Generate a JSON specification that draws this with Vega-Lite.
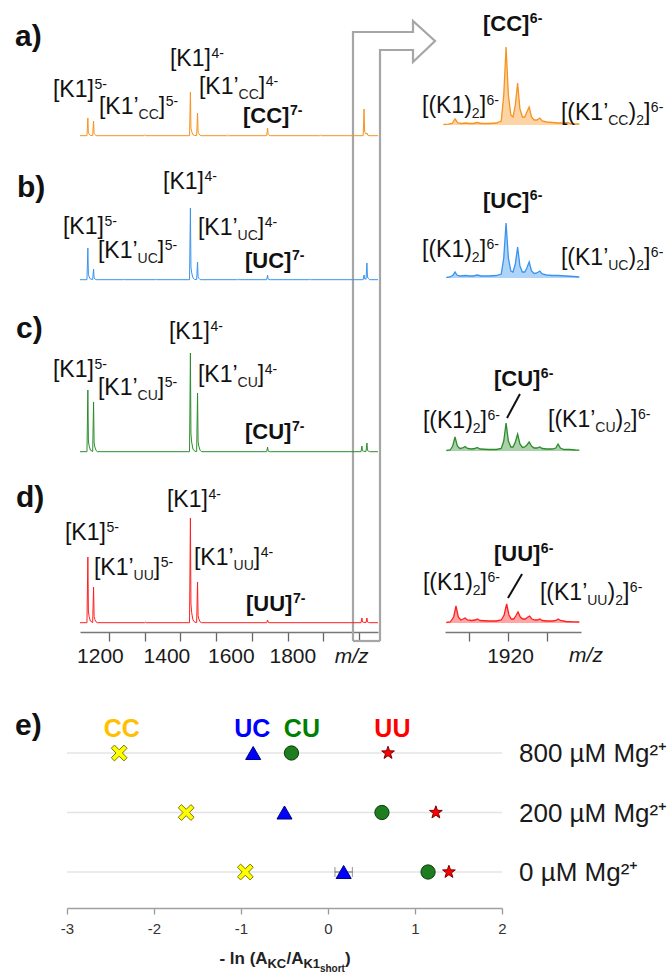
{
"$schema": "https://vega.github.io/schema/vega-lite/v6.json",
"background": "white",
"padding": 0,
"spacing": 44,
"config": {"view": {"stroke": null}, "font": "Liberation Sans"},
"datasets": {
"aL": [{"mz":1119,"i":0.3},{"mz":1138.5,"i":0.3},{"mz":1141,"i":18},{"mz":1142.5,"i":3.2},{"mz":1144.5,"i":1.8},{"mz":1148,"i":0.6},{"mz":1154.5,"i":0.4},{"mz":1157,"i":15},{"mz":1158.5,"i":2.7},{"mz":1160.5,"i":1.5},{"mz":1164,"i":0.5},{"mz":1167,"i":0.3},{"mz":1298,"i":0.3},{"mz":1300,"i":1.2},{"mz":1302,"i":0.3},{"mz":1425.5,"i":0.3},{"mz":1428,"i":44},{"mz":1429.5,"i":8},{"mz":1431.5,"i":4.4},{"mz":1435,"i":1.3},{"mz":1440,"i":0.5},{"mz":1445.5,"i":0.4},{"mz":1448,"i":23},{"mz":1449.5,"i":4},{"mz":1451.5,"i":2.3},{"mz":1455,"i":0.7},{"mz":1458,"i":0.3},{"mz":1530,"i":0.3},{"mz":1532,"i":1},{"mz":1534,"i":0.3},{"mz":1641.5,"i":0.3},{"mz":1644,"i":8},{"mz":1645.5,"i":1.5},{"mz":1648,"i":0.6},{"mz":1652,"i":0.3},{"mz":1790,"i":0.3},{"mz":1792,"i":0.8},{"mz":1794,"i":0.3},{"mz":1911.5,"i":0.3},{"mz":1914,"i":27},{"mz":1915.5,"i":5},{"mz":1917.5,"i":2.7},{"mz":1920,"i":2},{"mz":1922,"i":3},{"mz":1924,"i":1},{"mz":1928,"i":0.3},{"mz":1953,"i":0.3}],
"bL": [{"mz":1119,"i":0.3},{"mz":1138.5,"i":0.3},{"mz":1141,"i":32},{"mz":1142.5,"i":5.8},{"mz":1144.5,"i":3.2},{"mz":1148,"i":1},{"mz":1154.5,"i":0.4},{"mz":1157,"i":11},{"mz":1158.5,"i":2},{"mz":1160.5,"i":1.1},{"mz":1164,"i":0.4},{"mz":1167,"i":0.3},{"mz":1240,"i":0.3},{"mz":1242,"i":1},{"mz":1244,"i":0.3},{"mz":1330,"i":0.3},{"mz":1332,"i":0.9},{"mz":1334,"i":0.3},{"mz":1425.5,"i":0.3},{"mz":1428,"i":72},{"mz":1429.5,"i":13},{"mz":1431.5,"i":7.2},{"mz":1435,"i":2.2},{"mz":1440,"i":0.6},{"mz":1445.5,"i":0.4},{"mz":1448,"i":18},{"mz":1449.5,"i":3.2},{"mz":1451.5,"i":1.8},{"mz":1455,"i":0.5},{"mz":1458,"i":0.3},{"mz":1560,"i":0.3},{"mz":1562,"i":0.9},{"mz":1564,"i":0.3},{"mz":1641.5,"i":0.3},{"mz":1644,"i":5},{"mz":1645.5,"i":1},{"mz":1648,"i":0.4},{"mz":1652,"i":0.3},{"mz":1760,"i":0.3},{"mz":1762,"i":0.8},{"mz":1764,"i":0.3},{"mz":1911.5,"i":0.3},{"mz":1914,"i":5},{"mz":1915.5,"i":1.2},{"mz":1919.5,"i":0.8},{"mz":1922,"i":17},{"mz":1923.5,"i":3},{"mz":1925.5,"i":1.7},{"mz":1929,"i":0.5},{"mz":1933,"i":0.3},{"mz":1953,"i":0.3}],
"cL": [{"mz":1119,"i":0.3},{"mz":1138.5,"i":0.3},{"mz":1141,"i":62},{"mz":1142.5,"i":11},{"mz":1144.5,"i":6.2},{"mz":1148,"i":1.9},{"mz":1154.5,"i":0.5},{"mz":1157,"i":50},{"mz":1158.5,"i":9},{"mz":1160.5,"i":5},{"mz":1164,"i":1.5},{"mz":1168,"i":0.3},{"mz":1425.5,"i":0.3},{"mz":1428,"i":99},{"mz":1429.5,"i":18},{"mz":1431.5,"i":9.9},{"mz":1435,"i":3},{"mz":1440,"i":0.8},{"mz":1445.5,"i":0.5},{"mz":1448,"i":59},{"mz":1449.5,"i":10.6},{"mz":1451.5,"i":5.9},{"mz":1455,"i":1.8},{"mz":1459,"i":0.3},{"mz":1641.5,"i":0.3},{"mz":1644,"i":5},{"mz":1645.5,"i":1},{"mz":1648,"i":0.4},{"mz":1652,"i":0.3},{"mz":1905.5,"i":0.3},{"mz":1908,"i":6},{"mz":1909.5,"i":1.2},{"mz":1912,"i":0.8},{"mz":1919.5,"i":0.6},{"mz":1922,"i":9},{"mz":1923.5,"i":1.8},{"mz":1925.5,"i":1},{"mz":1929,"i":0.4},{"mz":1933,"i":0.3},{"mz":1953,"i":0.3}],
"dL": [{"mz":1119,"i":0.3},{"mz":1138.5,"i":0.3},{"mz":1141,"i":66},{"mz":1142.5,"i":12},{"mz":1144.5,"i":6.6},{"mz":1148,"i":2},{"mz":1154.5,"i":0.5},{"mz":1157,"i":36},{"mz":1158.5,"i":6.5},{"mz":1160.5,"i":3.6},{"mz":1164,"i":1.1},{"mz":1168,"i":0.3},{"mz":1300,"i":0.3},{"mz":1302,"i":0.8},{"mz":1304,"i":0.3},{"mz":1425.5,"i":0.3},{"mz":1428,"i":105},{"mz":1429.5,"i":19},{"mz":1431.5,"i":10.5},{"mz":1435,"i":3.2},{"mz":1440,"i":0.8},{"mz":1445.5,"i":0.5},{"mz":1448,"i":41},{"mz":1449.5,"i":7.4},{"mz":1451.5,"i":4.1},{"mz":1455,"i":1.2},{"mz":1459,"i":0.3},{"mz":1641.5,"i":0.3},{"mz":1644,"i":3},{"mz":1645.5,"i":0.8},{"mz":1648,"i":0.3},{"mz":1905.5,"i":0.3},{"mz":1908,"i":5},{"mz":1909.5,"i":1},{"mz":1912,"i":0.7},{"mz":1919.5,"i":0.5},{"mz":1922,"i":5},{"mz":1923.5,"i":1},{"mz":1925.5,"i":0.7},{"mz":1929,"i":0.3},{"mz":1953,"i":0.3}],
"aR": [{"mz":1886.5,"i":0.5},{"mz":1889,"i":0.8},{"mz":1891,"i":1.5},{"mz":1892.5,"i":6},{"mz":1894,"i":2},{"mz":1896,"i":1.5},{"mz":1898,"i":2},{"mz":1900,"i":1.5},{"mz":1902,"i":1.5},{"mz":1904,"i":2.5},{"mz":1906,"i":1.5},{"mz":1910,"i":1.5},{"mz":1914,"i":2},{"mz":1916.5,"i":4},{"mz":1917.8,"i":30},{"mz":1919,"i":78},{"mz":1920.2,"i":30},{"mz":1921.5,"i":10},{"mz":1922.6,"i":8},{"mz":1923.8,"i":20},{"mz":1925,"i":42},{"mz":1926.2,"i":16},{"mz":1927.5,"i":8},{"mz":1928.7,"i":8},{"mz":1929.8,"i":13},{"mz":1931,"i":18},{"mz":1932.2,"i":8},{"mz":1933.6,"i":5},{"mz":1935,"i":5},{"mz":1936.5,"i":7},{"mz":1937.8,"i":4},{"mz":1940,"i":3},{"mz":1943,"i":2.5},{"mz":1946,"i":2},{"mz":1949,"i":2},{"mz":1951,"i":2.5},{"mz":1952.5,"i":1.5},{"mz":1955,"i":1},{"mz":1957,"i":1}],
"bR": [{"mz":1888,"i":0.5},{"mz":1890,"i":1},{"mz":1891.5,"i":3},{"mz":1892.5,"i":6},{"mz":1893.5,"i":3},{"mz":1895,"i":2},{"mz":1898,"i":2.5},{"mz":1900,"i":2},{"mz":1902,"i":2},{"mz":1904,"i":3},{"mz":1906,"i":2},{"mz":1910,"i":2},{"mz":1914,"i":2.5},{"mz":1916.5,"i":4},{"mz":1917.8,"i":20},{"mz":1919,"i":55},{"mz":1920.2,"i":20},{"mz":1921.5,"i":7},{"mz":1922.6,"i":6},{"mz":1923.8,"i":14},{"mz":1925,"i":31},{"mz":1926.2,"i":12},{"mz":1927.5,"i":6},{"mz":1928.7,"i":6},{"mz":1929.8,"i":10},{"mz":1931,"i":16},{"mz":1932.2,"i":7},{"mz":1933.6,"i":4.5},{"mz":1935,"i":5},{"mz":1936.5,"i":7},{"mz":1937.8,"i":4},{"mz":1940,"i":3},{"mz":1943,"i":2.5},{"mz":1946,"i":2.5},{"mz":1950,"i":2},{"mz":1954,"i":1.5},{"mz":1957,"i":1}],
"cR": [{"mz":1888,"i":0.5},{"mz":1890,"i":1},{"mz":1891.3,"i":5},{"mz":1892.5,"i":14},{"mz":1893.7,"i":5},{"mz":1895,"i":2.5},{"mz":1896.5,"i":3},{"mz":1897.7,"i":4.5},{"mz":1899,"i":2.5},{"mz":1901,"i":2},{"mz":1902.8,"i":2.5},{"mz":1904,"i":3.5},{"mz":1905.5,"i":2},{"mz":1910,"i":1.5},{"mz":1914,"i":1.5},{"mz":1916.5,"i":2.5},{"mz":1917.8,"i":10},{"mz":1919,"i":28},{"mz":1920.2,"i":10},{"mz":1921.5,"i":4},{"mz":1922.6,"i":4},{"mz":1923.8,"i":9},{"mz":1925,"i":17},{"mz":1926.2,"i":7},{"mz":1927.5,"i":3.5},{"mz":1928.7,"i":4},{"mz":1929.8,"i":6},{"mz":1931,"i":9},{"mz":1932.2,"i":5},{"mz":1933.6,"i":3},{"mz":1935,"i":3},{"mz":1936.5,"i":4},{"mz":1937.8,"i":2.5},{"mz":1940,"i":2},{"mz":1943,"i":2},{"mz":1944.8,"i":3},{"mz":1946,"i":7},{"mz":1947.2,"i":3},{"mz":1949,"i":1.5},{"mz":1952,"i":1.5},{"mz":1955,"i":1},{"mz":1957,"i":0.8}],
"dR": [{"mz":1888,"i":0.5},{"mz":1890,"i":1},{"mz":1891.8,"i":6},{"mz":1893,"i":17},{"mz":1894.2,"i":6},{"mz":1895.5,"i":3},{"mz":1896.7,"i":4},{"mz":1897.7,"i":5},{"mz":1899,"i":3},{"mz":1901,"i":2.5},{"mz":1903,"i":3},{"mz":1904,"i":4},{"mz":1905.5,"i":2.5},{"mz":1910,"i":2},{"mz":1914,"i":2},{"mz":1916.5,"i":3},{"mz":1918,"i":8},{"mz":1919.3,"i":19},{"mz":1920.5,"i":8},{"mz":1921.7,"i":4},{"mz":1923,"i":4},{"mz":1924,"i":7},{"mz":1925.2,"i":11},{"mz":1926.4,"i":6},{"mz":1927.6,"i":4},{"mz":1929,"i":4},{"mz":1930,"i":5.5},{"mz":1931.2,"i":7},{"mz":1932.4,"i":4},{"mz":1934,"i":3},{"mz":1935.3,"i":3},{"mz":1936.5,"i":4},{"mz":1937.8,"i":2.5},{"mz":1940,"i":2},{"mz":1943,"i":2},{"mz":1945,"i":2.5},{"mz":1946,"i":4},{"mz":1947.2,"i":2.5},{"mz":1950,"i":1.5},{"mz":1954,"i":1.2},{"mz":1957,"i":1}],
"lab": [
{"p":"a","s":"L","mz":1157.9,"i":39,"s0":"]","s1":"","s2":"","s3":"","s4":"","s5":"","s6":"[K1","sup":"5-"},
{"p":"a","s":"L","mz":1357.4,"i":22,"s0":"]","s1":"CC","s2":"","s3":"","s4":"","s5":"[K1’","s6":"","sup":"5-"},
{"p":"a","s":"L","mz":1485.3,"i":70,"s0":"]","s1":"","s2":"","s3":"","s4":"","s5":"","s6":"[K1","sup":"4-"},
{"p":"a","s":"L","mz":1637.3,"i":42,"s0":"]","s1":"CC","s2":"","s3":"","s4":"","s5":"[K1’","s6":"","sup":"4-"},
{"p":"b","s":"L","mz":1185.9,"i":46,"s0":"]","s1":"","s2":"","s3":"","s4":"","s5":"","s6":"[K1","sup":"5-"},
{"p":"b","s":"L","mz":1465.8,"i":91,"s0":"]","s1":"","s2":"","s3":"","s4":"","s5":"","s6":"[K1","sup":"4-"},
{"p":"b","s":"L","mz":1354.6,"i":22,"s0":"]","s1":"UC","s2":"","s3":"","s4":"","s5":"[K1’","s6":"","sup":"5-"},
{"p":"b","s":"L","mz":1634.5,"i":45,"s0":"]","s1":"UC","s2":"","s3":"","s4":"","s5":"[K1’","s6":"","sup":"4-"},
{"p":"c","s":"L","mz":1157.9,"i":75,"s0":"]","s1":"","s2":"","s3":"","s4":"","s5":"","s6":"[K1","sup":"5-"},
{"p":"c","s":"L","mz":1482.5,"i":113,"s0":"]","s1":"","s2":"","s3":"","s4":"","s5":"","s6":"[K1","sup":"4-"},
{"p":"c","s":"L","mz":1354.6,"i":57,"s0":"]","s1":"CU","s2":"","s3":"","s4":"","s5":"[K1’","s6":"","sup":"5-"},
{"p":"c","s":"L","mz":1634.5,"i":70,"s0":"]","s1":"CU","s2":"","s3":"","s4":"","s5":"[K1’","s6":"","sup":"4-"},
{"p":"d","s":"L","mz":1191.5,"i":83,"s0":"]","s1":"","s2":"","s3":"","s4":"","s5":"","s6":"[K1","sup":"5-"},
{"p":"d","s":"L","mz":1476.9,"i":116,"s0":"]","s1":"","s2":"","s3":"","s4":"","s5":"","s6":"[K1","sup":"4-"},
{"p":"d","s":"L","mz":1343.5,"i":48,"s0":"]","s1":"UU","s2":"","s3":"","s4":"","s5":"[K1’","s6":"","sup":"5-"},
{"p":"d","s":"L","mz":1623.3,"i":58,"s0":"]","s1":"UU","s2":"","s3":"","s4":"","s5":"[K1’","s6":"","sup":"4-"},
{"p":"a","s":"R","mz":1908.6,"i":12,"s0":"]","s1":"2","s2":"[(K1)","s3":"","s4":"","s5":"","s6":"","sup":"6-"},
{"p":"a","s":"R","mz":1993.9,"i":5,"s0":"]","s1":"2","s2":")","s3":"CC","s4":"[(K1’","s5":"","s6":"","sup":"6-"},
{"p":"b","s":"R","mz":1908.6,"i":21,"s0":"]","s1":"2","s2":"[(K1)","s3":"","s4":"","s5":"","s6":"","sup":"6-"},
{"p":"b","s":"R","mz":1993.9,"i":13,"s0":"]","s1":"2","s2":")","s3":"UC","s4":"[(K1’","s5":"","s6":"","sup":"6-"},
{"p":"c","s":"R","mz":1909.1,"i":23,"s0":"]","s1":"2","s2":"[(K1)","s3":"","s4":"","s5":"","s6":"","sup":"6-"},
{"p":"c","s":"R","mz":1987.2,"i":24,"s0":"]","s1":"2","s2":")","s3":"CU","s4":"[(K1’","s5":"","s6":"","sup":"6-"},
{"p":"d","s":"R","mz":1909.1,"i":33,"s0":"]","s1":"2","s2":"[(K1)","s3":"","s4":"","s5":"","s6":"","sup":"6-"},
{"p":"d","s":"R","mz":1983.0,"i":23,"s0":"]","s1":"2","s2":")","s3":"UU","s4":"[(K1’","s5":"","s6":"","sup":"6-"}],
"labb": [
{"p":"a","s":"L","mz":1705.1,"i":13,"t":"[CC]","sup":"7-"},
{"p":"b","s":"L","mz":1710.7,"i":12,"t":"[UC]","sup":"7-"},
{"p":"c","s":"L","mz":1710.7,"i":13,"t":"[CU]","sup":"7-"},
{"p":"d","s":"L","mz":1713.5,"i":12,"t":"[UU]","sup":"7-"},
{"p":"a","s":"R","mz":1931.1,"i":94,"t":"[CC]","sup":"6-"},
{"p":"b","s":"R","mz":1931.1,"i":70,"t":"[UC]","sup":"6-"},
{"p":"c","s":"R","mz":1936.8,"i":65,"t":"[CU]","sup":"6-"},
{"p":"d","s":"R","mz":1936.8,"i":62,"t":"[UU]","sup":"6-"}],
"pl": [{"p":"a","mz":937.1,"i":90,"t":"a)"},{"p":"b","mz":942.7,"i":83,"t":"b)"},{"p":"c","mz":939.9,"i":114,"t":"c)"},{"p":"d","mz":939.9,"i":116,"t":"d)"}],
"sl": [{"p":"c","mz":1926.2,"i":57,"mz2":1919.5,"i2":33},{"p":"d","mz":1927.3,"i":49,"mz2":1920.0,"i2":25}],
"zoom": [{"mz":1883.0},{"mz":1958.6}],
"arrow": [{"o":0,"mz":1883.0,"i":-14},{"o":1,"mz":1883.0,"i":104},{"o":2,"mz":2051.0,"i":104},{"o":3,"mz":2051.0,"i":115},{"o":4,"mz":2112.5,"i":95},{"o":5,"mz":2051.0,"i":74},{"o":6,"mz":2051.0,"i":86},{"o":7,"mz":1958.6,"i":86},{"o":8,"mz":1958.6,"i":-14}],
"e": [
{"cond":"800 µM Mg²⁺","type":"CC","v":-2.40},
{"cond":"800 µM Mg²⁺","type":"UC","v":-0.86},
{"cond":"800 µM Mg²⁺","type":"CU","v":-0.42},
{"cond":"800 µM Mg²⁺","type":"UU","v":0.69},
{"cond":"200 µM Mg²⁺","type":"CC","v":-1.63},
{"cond":"200 µM Mg²⁺","type":"UC","v":-0.50},
{"cond":"200 µM Mg²⁺","type":"CU","v":0.62},
{"cond":"200 µM Mg²⁺","type":"UU","v":1.24},
{"cond":"0 µM Mg²⁺","type":"CC","v":-0.95},
{"cond":"0 µM Mg²⁺","type":"UC","v":0.18},
{"cond":"0 µM Mg²⁺","type":"CU","v":1.15},
{"cond":"0 µM Mg²⁺","type":"UU","v":1.39}],
"eerr": [{"cond":"0 µM Mg²⁺","type":"UC","lo":0.08,"hi":0.28}],
"ehead": [{"type":"CC","x":-2.37},{"type":"UC","x":-0.87},{"type":"CU","x":-0.30},{"type":"UU","x":0.74}]
},
"vconcat": [
{
"columns": 2, "spacing": 0, "bounds": "flush", "align": "each",
"concat": [
{"width": 378, "height": 150, "layer": [
 {"data": {"name": "arrow"}, "mark": {"type": "line", "color": "#a6a6a6", "strokeWidth": 2.2, "strokeJoin": "miter", "clip": false},
  "encoding": {"x": {"field":"mz","type":"quantitative","scale":{"domain":[1119,1953],"range":[80,378],"nice":false,"zero":false},"axis":null},
   "y": {"field":"i","type":"quantitative","scale":{"domain":[-14,136],"nice":false,"zero":false},"axis":null},
   "order": {"field":"o","type":"quantitative"}}},
 {"data": {"name": "aL"}, "mark": {"type": "line", "color": "#f7931e", "strokeWidth": 1},
  "encoding": {"x": {"field":"mz","type":"quantitative","scale":{"domain":[1119,1953],"range":[80,378],"nice":false,"zero":false},"axis":null},
   "y": {"field":"i","type":"quantitative","scale":{"domain":[-14,136],"nice":false,"zero":false},"axis":null}}},
 {"data": {"name": "lab"}, "transform": [{"filter": "datum.p=='a' && datum.s=='L'"}],
  "encoding": {"x": {"field":"mz","type":"quantitative","scale":{"domain":[1119,1953],"range":[80,378],"nice":false,"zero":false},"axis":null},
   "y": {"field":"i","type":"quantitative","scale":{"domain":[-14,136],"nice":false,"zero":false},"axis":null}},
  "layer": [
   {"mark": {"type":"text","align":"right","baseline":"alphabetic","fontSize":23,"color":"#111"}, "encoding": {"text": {"field":"s0"}}},
   {"mark": {"type":"text","align":"right","baseline":"alphabetic","fontSize":14,"dx":-6.4,"dy":5,"color":"#222"}, "encoding": {"text": {"field":"s1"}}},
   {"mark": {"type":"text","align":"right","baseline":"alphabetic","fontSize":23,"dx":-26.6,"color":"#111"}, "encoding": {"text": {"field":"s5"}}},
   {"mark": {"type":"text","align":"right","baseline":"alphabetic","fontSize":23,"dx":-6.4,"color":"#111"}, "encoding": {"text": {"field":"s6"}}},
   {"mark": {"type":"text","align":"left","baseline":"alphabetic","fontSize":14,"dx":0.5,"dy":-8,"color":"#111"}, "encoding": {"text": {"field":"sup"}}}
  ]},
 {"data": {"name": "labb"}, "transform": [{"filter": "datum.p=='a' && datum.s=='L'"}],
  "encoding": {"x": {"field":"mz","type":"quantitative","scale":{"domain":[1119,1953],"range":[80,378],"nice":false,"zero":false},"axis":null},
   "y": {"field":"i","type":"quantitative","scale":{"domain":[-14,136],"nice":false,"zero":false},"axis":null}},
  "layer": [
   {"mark": {"type":"text","align":"right","baseline":"alphabetic","fontSize":22,"fontWeight":"bold","color":"#111"}, "encoding": {"text": {"field":"t"}}},
   {"mark": {"type":"text","align":"left","baseline":"alphabetic","fontSize":14,"fontWeight":"bold","dx":0.5,"dy":-8,"color":"#111"}, "encoding": {"text": {"field":"sup"}}}
  ]},
 {"data": {"name": "pl"}, "transform": [{"filter": "datum.p=='a'"}], "mark": {"type":"text","align":"left","baseline":"alphabetic","fontSize":30,"fontWeight":"bold","color":"#111"},
  "encoding": {"x": {"field":"mz","type":"quantitative","scale":{"domain":[1119,1953],"range":[80,378],"nice":false,"zero":false},"axis":null},
   "y": {"field":"i","type":"quantitative","scale":{"domain":[-14,136],"nice":false,"zero":false},"axis":null}, "text": {"field":"t"}}}
]},
{"width": 294, "height": 150, "layer": [
 {"data": {"name": "aR"}, "mark": {"type": "area", "color": "#f7931e", "fillOpacity": 0.4, "line": {"color": "#f7931e", "strokeWidth": 1.3}},
  "encoding": {"x": {"field":"mz","type":"quantitative","scale":{"domain":[1887.3,1957.9],"range":[67,203],"nice":false,"zero":false},"axis":null},
   "y": {"field":"i","type":"quantitative","scale":{"domain":[-25,125],"nice":false,"zero":false},"axis":null}}},
 {"data": {"name": "lab"}, "transform": [{"filter": "datum.p=='a' && datum.s=='R'"}],
  "encoding": {"x": {"field":"mz","type":"quantitative","scale":{"domain":[1887.3,1957.9],"range":[67,203],"nice":false,"zero":false},"axis":null},
   "y": {"field":"i","type":"quantitative","scale":{"domain":[-25,125],"nice":false,"zero":false},"axis":null}},
  "layer": [
   {"mark": {"type":"text","align":"right","baseline":"alphabetic","fontSize":23,"color":"#111"}, "encoding": {"text": {"field":"s0"}}},
   {"mark": {"type":"text","align":"right","baseline":"alphabetic","fontSize":14,"dx":-6.4,"dy":5,"color":"#222"}, "encoding": {"text": {"field":"s1"}}},
   {"mark": {"type":"text","align":"right","baseline":"alphabetic","fontSize":23,"dx":-14.2,"color":"#111"}, "encoding": {"text": {"field":"s2"}}},
   {"mark": {"type":"text","align":"right","baseline":"alphabetic","fontSize":14,"dx":-21.9,"dy":5,"color":"#222"}, "encoding": {"text": {"field":"s3"}}},
   {"mark": {"type":"text","align":"right","baseline":"alphabetic","fontSize":23,"dx":-42.1,"color":"#111"}, "encoding": {"text": {"field":"s4"}}},
   {"mark": {"type":"text","align":"left","baseline":"alphabetic","fontSize":14,"dx":0.5,"dy":-8,"color":"#111"}, "encoding": {"text": {"field":"sup"}}}
  ]},
 {"data": {"name": "labb"}, "transform": [{"filter": "datum.p=='a' && datum.s=='R'"}],
  "encoding": {"x": {"field":"mz","type":"quantitative","scale":{"domain":[1887.3,1957.9],"range":[67,203],"nice":false,"zero":false},"axis":null},
   "y": {"field":"i","type":"quantitative","scale":{"domain":[-25,125],"nice":false,"zero":false},"axis":null}},
  "layer": [
   {"mark": {"type":"text","align":"right","baseline":"alphabetic","fontSize":22,"fontWeight":"bold","color":"#111"}, "encoding": {"text": {"field":"t"}}},
   {"mark": {"type":"text","align":"left","baseline":"alphabetic","fontSize":14,"fontWeight":"bold","dx":0.5,"dy":-8,"color":"#111"}, "encoding": {"text": {"field":"sup"}}}
  ]}
]},
{"width": 378, "height": 144, "layer": [
 {"data": {"name": "zoom"}, "mark": {"type": "rule", "color": "#a6a6a6", "strokeWidth": 2.2},
  "encoding": {"x": {"field":"mz","type":"quantitative","scale":{"domain":[1119,1953],"range":[80,378],"nice":false,"zero":false},"axis":null}}},
 {"data": {"name": "bL"}, "mark": {"type": "line", "color": "#3a93ee", "strokeWidth": 1},
  "encoding": {"x": {"field":"mz","type":"quantitative","scale":{"domain":[1119,1953],"range":[80,378],"nice":false,"zero":false},"axis":null},
   "y": {"field":"i","type":"quantitative","scale":{"domain":[-14,130],"nice":false,"zero":false},"axis":null}}},
 {"data": {"name": "lab"}, "transform": [{"filter": "datum.p=='b' && datum.s=='L'"}],
  "encoding": {"x": {"field":"mz","type":"quantitative","scale":{"domain":[1119,1953],"range":[80,378],"nice":false,"zero":false},"axis":null},
   "y": {"field":"i","type":"quantitative","scale":{"domain":[-14,130],"nice":false,"zero":false},"axis":null}},
  "layer": [
   {"mark": {"type":"text","align":"right","baseline":"alphabetic","fontSize":23,"color":"#111"}, "encoding": {"text": {"field":"s0"}}},
   {"mark": {"type":"text","align":"right","baseline":"alphabetic","fontSize":14,"dx":-6.4,"dy":5,"color":"#222"}, "encoding": {"text": {"field":"s1"}}},
   {"mark": {"type":"text","align":"right","baseline":"alphabetic","fontSize":23,"dx":-26.6,"color":"#111"}, "encoding": {"text": {"field":"s5"}}},
   {"mark": {"type":"text","align":"right","baseline":"alphabetic","fontSize":23,"dx":-6.4,"color":"#111"}, "encoding": {"text": {"field":"s6"}}},
   {"mark": {"type":"text","align":"left","baseline":"alphabetic","fontSize":14,"dx":0.5,"dy":-8,"color":"#111"}, "encoding": {"text": {"field":"sup"}}}
  ]},
 {"data": {"name": "labb"}, "transform": [{"filter": "datum.p=='b' && datum.s=='L'"}],
  "encoding": {"x": {"field":"mz","type":"quantitative","scale":{"domain":[1119,1953],"range":[80,378],"nice":false,"zero":false},"axis":null},
   "y": {"field":"i","type":"quantitative","scale":{"domain":[-14,130],"nice":false,"zero":false},"axis":null}},
  "layer": [
   {"mark": {"type":"text","align":"right","baseline":"alphabetic","fontSize":22,"fontWeight":"bold","color":"#111"}, "encoding": {"text": {"field":"t"}}},
   {"mark": {"type":"text","align":"left","baseline":"alphabetic","fontSize":14,"fontWeight":"bold","dx":0.5,"dy":-8,"color":"#111"}, "encoding": {"text": {"field":"sup"}}}
  ]},
 {"data": {"name": "pl"}, "transform": [{"filter": "datum.p=='b'"}], "mark": {"type":"text","align":"left","baseline":"alphabetic","fontSize":30,"fontWeight":"bold","color":"#111"},
  "encoding": {"x": {"field":"mz","type":"quantitative","scale":{"domain":[1119,1953],"range":[80,378],"nice":false,"zero":false},"axis":null},
   "y": {"field":"i","type":"quantitative","scale":{"domain":[-14,130],"nice":false,"zero":false},"axis":null}, "text": {"field":"t"}}}
]},
{"width": 294, "height": 144, "layer": [
 {"data": {"name": "bR"}, "mark": {"type": "area", "color": "#3a93ee", "fillOpacity": 0.4, "line": {"color": "#3a93ee", "strokeWidth": 1.3}},
  "encoding": {"x": {"field":"mz","type":"quantitative","scale":{"domain":[1887.3,1957.9],"range":[67,203],"nice":false,"zero":false},"axis":null},
   "y": {"field":"i","type":"quantitative","scale":{"domain":[-16,128],"nice":false,"zero":false},"axis":null}}},
 {"data": {"name": "lab"}, "transform": [{"filter": "datum.p=='b' && datum.s=='R'"}],
  "encoding": {"x": {"field":"mz","type":"quantitative","scale":{"domain":[1887.3,1957.9],"range":[67,203],"nice":false,"zero":false},"axis":null},
   "y": {"field":"i","type":"quantitative","scale":{"domain":[-16,128],"nice":false,"zero":false},"axis":null}},
  "layer": [
   {"mark": {"type":"text","align":"right","baseline":"alphabetic","fontSize":23,"color":"#111"}, "encoding": {"text": {"field":"s0"}}},
   {"mark": {"type":"text","align":"right","baseline":"alphabetic","fontSize":14,"dx":-6.4,"dy":5,"color":"#222"}, "encoding": {"text": {"field":"s1"}}},
   {"mark": {"type":"text","align":"right","baseline":"alphabetic","fontSize":23,"dx":-14.2,"color":"#111"}, "encoding": {"text": {"field":"s2"}}},
   {"mark": {"type":"text","align":"right","baseline":"alphabetic","fontSize":14,"dx":-21.9,"dy":5,"color":"#222"}, "encoding": {"text": {"field":"s3"}}},
   {"mark": {"type":"text","align":"right","baseline":"alphabetic","fontSize":23,"dx":-42.1,"color":"#111"}, "encoding": {"text": {"field":"s4"}}},
   {"mark": {"type":"text","align":"left","baseline":"alphabetic","fontSize":14,"dx":0.5,"dy":-8,"color":"#111"}, "encoding": {"text": {"field":"sup"}}}
  ]},
 {"data": {"name": "labb"}, "transform": [{"filter": "datum.p=='b' && datum.s=='R'"}],
  "encoding": {"x": {"field":"mz","type":"quantitative","scale":{"domain":[1887.3,1957.9],"range":[67,203],"nice":false,"zero":false},"axis":null},
   "y": {"field":"i","type":"quantitative","scale":{"domain":[-16,128],"nice":false,"zero":false},"axis":null}},
  "layer": [
   {"mark": {"type":"text","align":"right","baseline":"alphabetic","fontSize":22,"fontWeight":"bold","color":"#111"}, "encoding": {"text": {"field":"t"}}},
   {"mark": {"type":"text","align":"left","baseline":"alphabetic","fontSize":14,"fontWeight":"bold","dx":0.5,"dy":-8,"color":"#111"}, "encoding": {"text": {"field":"sup"}}}
  ]}
]},
{"width": 378, "height": 172, "layer": [
 {"data": {"name": "zoom"}, "mark": {"type": "rule", "color": "#a6a6a6", "strokeWidth": 2.2},
  "encoding": {"x": {"field":"mz","type":"quantitative","scale":{"domain":[1119,1953],"range":[80,378],"nice":false,"zero":false},"axis":null}}},
 {"data": {"name": "cL"}, "mark": {"type": "line", "color": "#2c8c2c", "strokeWidth": 1},
  "encoding": {"x": {"field":"mz","type":"quantitative","scale":{"domain":[1119,1953],"range":[80,378],"nice":false,"zero":false},"axis":null},
   "y": {"field":"i","type":"quantitative","scale":{"domain":[-14,158],"nice":false,"zero":false},"axis":null}}},
 {"data": {"name": "lab"}, "transform": [{"filter": "datum.p=='c' && datum.s=='L'"}],
  "encoding": {"x": {"field":"mz","type":"quantitative","scale":{"domain":[1119,1953],"range":[80,378],"nice":false,"zero":false},"axis":null},
   "y": {"field":"i","type":"quantitative","scale":{"domain":[-14,158],"nice":false,"zero":false},"axis":null}},
  "layer": [
   {"mark": {"type":"text","align":"right","baseline":"alphabetic","fontSize":23,"color":"#111"}, "encoding": {"text": {"field":"s0"}}},
   {"mark": {"type":"text","align":"right","baseline":"alphabetic","fontSize":14,"dx":-6.4,"dy":5,"color":"#222"}, "encoding": {"text": {"field":"s1"}}},
   {"mark": {"type":"text","align":"right","baseline":"alphabetic","fontSize":23,"dx":-26.6,"color":"#111"}, "encoding": {"text": {"field":"s5"}}},
   {"mark": {"type":"text","align":"right","baseline":"alphabetic","fontSize":23,"dx":-6.4,"color":"#111"}, "encoding": {"text": {"field":"s6"}}},
   {"mark": {"type":"text","align":"left","baseline":"alphabetic","fontSize":14,"dx":0.5,"dy":-8,"color":"#111"}, "encoding": {"text": {"field":"sup"}}}
  ]},
 {"data": {"name": "labb"}, "transform": [{"filter": "datum.p=='c' && datum.s=='L'"}],
  "encoding": {"x": {"field":"mz","type":"quantitative","scale":{"domain":[1119,1953],"range":[80,378],"nice":false,"zero":false},"axis":null},
   "y": {"field":"i","type":"quantitative","scale":{"domain":[-14,158],"nice":false,"zero":false},"axis":null}},
  "layer": [
   {"mark": {"type":"text","align":"right","baseline":"alphabetic","fontSize":22,"fontWeight":"bold","color":"#111"}, "encoding": {"text": {"field":"t"}}},
   {"mark": {"type":"text","align":"left","baseline":"alphabetic","fontSize":14,"fontWeight":"bold","dx":0.5,"dy":-8,"color":"#111"}, "encoding": {"text": {"field":"sup"}}}
  ]},
 {"data": {"name": "pl"}, "transform": [{"filter": "datum.p=='c'"}], "mark": {"type":"text","align":"left","baseline":"alphabetic","fontSize":30,"fontWeight":"bold","color":"#111"},
  "encoding": {"x": {"field":"mz","type":"quantitative","scale":{"domain":[1119,1953],"range":[80,378],"nice":false,"zero":false},"axis":null},
   "y": {"field":"i","type":"quantitative","scale":{"domain":[-14,158],"nice":false,"zero":false},"axis":null}, "text": {"field":"t"}}}
]},
{"width": 294, "height": 172, "layer": [
 {"data": {"name": "cR"}, "mark": {"type": "area", "color": "#2c8c2c", "fillOpacity": 0.4, "line": {"color": "#2c8c2c", "strokeWidth": 1.3}},
  "encoding": {"x": {"field":"mz","type":"quantitative","scale":{"domain":[1887.3,1957.9],"range":[67,203],"nice":false,"zero":false},"axis":null},
   "y": {"field":"i","type":"quantitative","scale":{"domain":[-15,157],"nice":false,"zero":false},"axis":null}}},
 {"data": {"name": "sl"}, "transform": [{"filter": "datum.p=='c'"}], "mark": {"type": "rule", "color": "#111", "strokeWidth": 2},
  "encoding": {"x": {"field":"mz","type":"quantitative","scale":{"domain":[1887.3,1957.9],"range":[67,203],"nice":false,"zero":false},"axis":null},
   "y": {"field":"i","type":"quantitative","scale":{"domain":[-15,157],"nice":false,"zero":false},"axis":null},
   "x2": {"field":"mz2"}, "y2": {"field":"i2"}}},
 {"data": {"name": "lab"}, "transform": [{"filter": "datum.p=='c' && datum.s=='R'"}],
  "encoding": {"x": {"field":"mz","type":"quantitative","scale":{"domain":[1887.3,1957.9],"range":[67,203],"nice":false,"zero":false},"axis":null},
   "y": {"field":"i","type":"quantitative","scale":{"domain":[-15,157],"nice":false,"zero":false},"axis":null}},
  "layer": [
   {"mark": {"type":"text","align":"right","baseline":"alphabetic","fontSize":23,"color":"#111"}, "encoding": {"text": {"field":"s0"}}},
   {"mark": {"type":"text","align":"right","baseline":"alphabetic","fontSize":14,"dx":-6.4,"dy":5,"color":"#222"}, "encoding": {"text": {"field":"s1"}}},
   {"mark": {"type":"text","align":"right","baseline":"alphabetic","fontSize":23,"dx":-14.2,"color":"#111"}, "encoding": {"text": {"field":"s2"}}},
   {"mark": {"type":"text","align":"right","baseline":"alphabetic","fontSize":14,"dx":-21.9,"dy":5,"color":"#222"}, "encoding": {"text": {"field":"s3"}}},
   {"mark": {"type":"text","align":"right","baseline":"alphabetic","fontSize":23,"dx":-42.1,"color":"#111"}, "encoding": {"text": {"field":"s4"}}},
   {"mark": {"type":"text","align":"left","baseline":"alphabetic","fontSize":14,"dx":0.5,"dy":-8,"color":"#111"}, "encoding": {"text": {"field":"sup"}}}
  ]},
 {"data": {"name": "labb"}, "transform": [{"filter": "datum.p=='c' && datum.s=='R'"}],
  "encoding": {"x": {"field":"mz","type":"quantitative","scale":{"domain":[1887.3,1957.9],"range":[67,203],"nice":false,"zero":false},"axis":null},
   "y": {"field":"i","type":"quantitative","scale":{"domain":[-15,157],"nice":false,"zero":false},"axis":null}},
  "layer": [
   {"mark": {"type":"text","align":"right","baseline":"alphabetic","fontSize":22,"fontWeight":"bold","color":"#111"}, "encoding": {"text": {"field":"t"}}},
   {"mark": {"type":"text","align":"left","baseline":"alphabetic","fontSize":14,"fontWeight":"bold","dx":0.5,"dy":-8,"color":"#111"}, "encoding": {"text": {"field":"sup"}}}
  ]}
]},
{"width": 378, "height": 166, "layer": [
 {"data": {"name": "zoom"}, "mark": {"type": "rule", "color": "#a6a6a6", "strokeWidth": 2.2},
  "encoding": {"x": {"field":"mz","type":"quantitative","scale":{"domain":[1119,1953],"range":[80,378],"nice":false,"zero":false},"title":null},
   "y": {"datum": 157, "type":"quantitative","scale":{"domain":[-9,157],"nice":false,"zero":false},"axis":null},
   "y2": {"datum": -18}}},
 {"data": {"values": [{}]}, "mark": {"type": "rule", "color": "#a6a6a6", "strokeWidth": 2.2},
  "encoding": {"x": {"datum": 1883.0, "type":"quantitative","scale":{"domain":[1119,1953],"range":[80,378],"nice":false,"zero":false},"title":null},
   "x2": {"datum": 1958.6},
   "y": {"datum": -18, "type":"quantitative","scale":{"domain":[-9,157],"nice":false,"zero":false},"axis":null}}},
 {"data": {"name": "dL"}, "mark": {"type": "line", "color": "#ff1f1f", "strokeWidth": 1},
  "encoding": {"x": {"field":"mz","type":"quantitative","scale":{"domain":[1119,1953],"range":[80,378],"nice":false,"zero":false},"title":null,
     "axis": {"values": [1200,1300,1400,1500,1600,1700,1800,1900], "labelExpr": "datum.value == 1900 ? 'm/z' : (datum.value % 200 == 0 ? '' + datum.value : '')",
      "labelFontStyle": {"condition": {"test": "datum.value == 1900", "value": "italic"}, "value": "normal"},
      "labelOffset": {"condition": [{"test": "datum.value == 1200", "value": -9}, {"test": "datum.value == 1400", "value": -14}, {"test": "datum.value == 1600", "value": -21}, {"test": "datum.value == 1800", "value": -31}], "value": -8},
      "labelFontSize": 21, "labelColor": "#1a1a1a", "labelPadding": 4, "tickSize": 9, "tickColor": "#666", "tickWidth": 1.3,
      "domainColor": "#777", "domainWidth": 1.5, "labelFlush": false, "labelOverlap": false, "labelBound": false, "grid": false, "title": null}},
   "y": {"field":"i","type":"quantitative","scale":{"domain":[-9,157],"nice":false,"zero":false},"axis":null}}},
 {"data": {"name": "lab"}, "transform": [{"filter": "datum.p=='d' && datum.s=='L'"}],
  "encoding": {"x": {"field":"mz","type":"quantitative","scale":{"domain":[1119,1953],"range":[80,378],"nice":false,"zero":false},"title":null},
   "y": {"field":"i","type":"quantitative","scale":{"domain":[-9,157],"nice":false,"zero":false},"axis":null}},
  "layer": [
   {"mark": {"type":"text","align":"right","baseline":"alphabetic","fontSize":23,"color":"#111"}, "encoding": {"text": {"field":"s0"}}},
   {"mark": {"type":"text","align":"right","baseline":"alphabetic","fontSize":14,"dx":-6.4,"dy":5,"color":"#222"}, "encoding": {"text": {"field":"s1"}}},
   {"mark": {"type":"text","align":"right","baseline":"alphabetic","fontSize":23,"dx":-26.6,"color":"#111"}, "encoding": {"text": {"field":"s5"}}},
   {"mark": {"type":"text","align":"right","baseline":"alphabetic","fontSize":23,"dx":-6.4,"color":"#111"}, "encoding": {"text": {"field":"s6"}}},
   {"mark": {"type":"text","align":"left","baseline":"alphabetic","fontSize":14,"dx":0.5,"dy":-8,"color":"#111"}, "encoding": {"text": {"field":"sup"}}}
  ]},
 {"data": {"name": "labb"}, "transform": [{"filter": "datum.p=='d' && datum.s=='L'"}],
  "encoding": {"x": {"field":"mz","type":"quantitative","scale":{"domain":[1119,1953],"range":[80,378],"nice":false,"zero":false},"title":null},
   "y": {"field":"i","type":"quantitative","scale":{"domain":[-9,157],"nice":false,"zero":false},"axis":null}},
  "layer": [
   {"mark": {"type":"text","align":"right","baseline":"alphabetic","fontSize":22,"fontWeight":"bold","color":"#111"}, "encoding": {"text": {"field":"t"}}},
   {"mark": {"type":"text","align":"left","baseline":"alphabetic","fontSize":14,"fontWeight":"bold","dx":0.5,"dy":-8,"color":"#111"}, "encoding": {"text": {"field":"sup"}}}
  ]},
 {"data": {"name": "pl"}, "transform": [{"filter": "datum.p=='d'"}], "mark": {"type":"text","align":"left","baseline":"alphabetic","fontSize":30,"fontWeight":"bold","color":"#111"},
  "encoding": {"x": {"field":"mz","type":"quantitative","scale":{"domain":[1119,1953],"range":[80,378],"nice":false,"zero":false},"title":null},
   "y": {"field":"i","type":"quantitative","scale":{"domain":[-9,157],"nice":false,"zero":false},"axis":null}, "text": {"field":"t"}}}
]},
{"width": 294, "height": 166, "layer": [
 {"data": {"name": "dR"}, "mark": {"type": "area", "color": "#ff1f1f", "fillOpacity": 0.4, "line": {"color": "#ff1f1f", "strokeWidth": 1.3}},
  "encoding": {"x": {"field":"mz","type":"quantitative","scale":{"domain":[1887.3,1957.9],"range":[67,203],"nice":false,"zero":false},"title":null,
     "axis": {"values": [1900,1920,1940], "labelExpr": "datum.value == 1920 ? '1920' : ''", "labelOffset": 2, "labelFontSize": 21, "labelColor": "#1a1a1a", "labelPadding": 4,
      "tickSize": 9, "tickColor": "#666", "tickWidth": 1.3, "domainColor": "#777", "domainWidth": 1.5, "labelFlush": false, "labelOverlap": false, "labelBound": false, "grid": false, "title": null}},
   "y": {"field":"i","type":"quantitative","scale":{"domain":[-9,157],"nice":false,"zero":false},"axis":null}}},
 {"data": {"values": [{}]}, "mark": {"type": "text", "text": "m/z", "fontStyle": "italic", "fontSize": 21, "align": "center", "baseline": "top", "dy": 13, "color": "#1a1a1a"},
  "encoding": {"x": {"datum": 1960.5, "type":"quantitative","scale":{"domain":[1887.3,1957.9],"range":[67,203],"nice":false,"zero":false},"title":null},
   "y": {"datum": -9, "type":"quantitative","scale":{"domain":[-9,157],"nice":false,"zero":false},"axis":null}}},
 {"data": {"name": "sl"}, "transform": [{"filter": "datum.p=='d'"}], "mark": {"type": "rule", "color": "#111", "strokeWidth": 2},
  "encoding": {"x": {"field":"mz","type":"quantitative","scale":{"domain":[1887.3,1957.9],"range":[67,203],"nice":false,"zero":false},"title":null},
   "y": {"field":"i","type":"quantitative","scale":{"domain":[-9,157],"nice":false,"zero":false},"axis":null},
   "x2": {"field":"mz2"}, "y2": {"field":"i2"}}},
 {"data": {"name": "lab"}, "transform": [{"filter": "datum.p=='d' && datum.s=='R'"}],
  "encoding": {"x": {"field":"mz","type":"quantitative","scale":{"domain":[1887.3,1957.9],"range":[67,203],"nice":false,"zero":false},"title":null},
   "y": {"field":"i","type":"quantitative","scale":{"domain":[-9,157],"nice":false,"zero":false},"axis":null}},
  "layer": [
   {"mark": {"type":"text","align":"right","baseline":"alphabetic","fontSize":23,"color":"#111"}, "encoding": {"text": {"field":"s0"}}},
   {"mark": {"type":"text","align":"right","baseline":"alphabetic","fontSize":14,"dx":-6.4,"dy":5,"color":"#222"}, "encoding": {"text": {"field":"s1"}}},
   {"mark": {"type":"text","align":"right","baseline":"alphabetic","fontSize":23,"dx":-14.2,"color":"#111"}, "encoding": {"text": {"field":"s2"}}},
   {"mark": {"type":"text","align":"right","baseline":"alphabetic","fontSize":14,"dx":-21.9,"dy":5,"color":"#222"}, "encoding": {"text": {"field":"s3"}}},
   {"mark": {"type":"text","align":"right","baseline":"alphabetic","fontSize":23,"dx":-42.1,"color":"#111"}, "encoding": {"text": {"field":"s4"}}},
   {"mark": {"type":"text","align":"left","baseline":"alphabetic","fontSize":14,"dx":0.5,"dy":-8,"color":"#111"}, "encoding": {"text": {"field":"sup"}}}
  ]},
 {"data": {"name": "labb"}, "transform": [{"filter": "datum.p=='d' && datum.s=='R'"}],
  "encoding": {"x": {"field":"mz","type":"quantitative","scale":{"domain":[1887.3,1957.9],"range":[67,203],"nice":false,"zero":false},"title":null},
   "y": {"field":"i","type":"quantitative","scale":{"domain":[-9,157],"nice":false,"zero":false},"axis":null}},
  "layer": [
   {"mark": {"type":"text","align":"right","baseline":"alphabetic","fontSize":22,"fontWeight":"bold","color":"#111"}, "encoding": {"text": {"field":"t"}}},
   {"mark": {"type":"text","align":"left","baseline":"alphabetic","fontSize":14,"fontWeight":"bold","dx":0.5,"dy":-8,"color":"#111"}, "encoding": {"text": {"field":"sup"}}}
  ]}
]}
]
},
{"width": 672, "height": 191, "layer": [
 {"data": {"name": "e"}, "transform": [{"filter": "datum.type=='CC'"}], "mark": {"type": "rule", "color": "#e4e4e4", "strokeWidth": 1.5},
  "encoding": {"x": {"datum": -3, "type":"quantitative","scale":{"domain":[-3,2],"range":[67,502],"nice":false,"zero":false},"title":null},
   "x2": {"datum": 2},
   "y": {"field":"cond","type":"nominal","scale":{"type":"point","domain":["800 µM Mg²⁺","200 µM Mg²⁺","0 µM Mg²⁺"],"padding":0.605},"axis":null}}},
 {"data": {"name": "eerr"}, "mark": {"type": "rule", "color": "#666", "strokeWidth": 1},
  "encoding": {"x": {"field":"lo","type":"quantitative","scale":{"domain":[-3,2],"range":[67,502],"nice":false,"zero":false},"title":null},
   "x2": {"field":"hi"},
   "y": {"field":"cond","type":"nominal","scale":{"type":"point","domain":["800 µM Mg²⁺","200 µM Mg²⁺","0 µM Mg²⁺"],"padding":0.605},"axis":null}}},
 {"data": {"name": "eerr"}, "mark": {"type": "tick", "color": "#666", "thickness": 1, "size": 10, "orient": "vertical"},
  "encoding": {"x": {"field":"lo","type":"quantitative","scale":{"domain":[-3,2],"range":[67,502],"nice":false,"zero":false},"title":null},
   "y": {"field":"cond","type":"nominal","scale":{"type":"point","domain":["800 µM Mg²⁺","200 µM Mg²⁺","0 µM Mg²⁺"],"padding":0.605},"axis":null}}},
 {"data": {"name": "eerr"}, "mark": {"type": "tick", "color": "#666", "thickness": 1, "size": 10, "orient": "vertical"},
  "encoding": {"x": {"field":"hi","type":"quantitative","scale":{"domain":[-3,2],"range":[67,502],"nice":false,"zero":false},"title":null},
   "y": {"field":"cond","type":"nominal","scale":{"type":"point","domain":["800 µM Mg²⁺","200 µM Mg²⁺","0 µM Mg²⁺"],"padding":0.605},"axis":null}}},
 {"data": {"name": "e"}, "mark": {"type": "point", "filled": true, "opacity": 1, "strokeWidth": 1},
  "encoding": {"x": {"field":"v","type":"quantitative","scale":{"domain":[-3,2],"range":[67,502],"nice":false,"zero":false},"title":null,
     "axis": {"values": [-3,-2,-1,0,1,2], "labelExpr": "'' + datum.value", "labelFontSize": 15, "labelColor": "#333", "labelPadding": 7, "tickSize": 6, "tickColor": "#999", "tickWidth": 1.3,
      "domainColor": "#a0a0a0", "domainWidth": 1.5, "labelFlush": false, "labelOverlap": false, "grid": false, "title": null}},
   "y": {"field":"cond","type":"nominal","scale":{"type":"point","domain":["800 µM Mg²⁺","200 µM Mg²⁺","0 µM Mg²⁺"],"padding":0.605},"axis":null},
   "shape": {"field":"type","type":"nominal","scale":{"domain":["CC","UC","CU","UU"],"range":["M-1,-0.6L-0.6,-1L0,-0.4L0.6,-1L1,-0.6L0.4,0L1,0.6L0.6,1L0,0.4L-0.6,1L-1,0.6L-0.4,0Z","triangle-up","circle","M0,-1L0.235,-0.324L0.951,-0.309L0.38,0.124L0.588,0.809L0,0.4L-0.588,0.809L-0.38,0.124L-0.951,-0.309L-0.235,-0.324Z"]},"legend":null},
   "size": {"field":"type","type":"ordinal","scale":{"domain":["CC","UC","CU","UU"],"range":[250,180,180,240]},"legend":null},
   "fill": {"field":"type","type":"nominal","scale":{"domain":["CC","UC","CU","UU"],"range":["#ffff00","#0000ff","#1e7d1e","#ff0000"]},"legend":null},
   "stroke": {"field":"type","type":"nominal","scale":{"domain":["CC","UC","CU","UU"],"range":["#7a7a00","#000080","#0b3d0b","#7a0000"]},"legend":null}}},
 {"data": {"name": "e"}, "transform": [{"filter": "datum.type=='CC'"}], "mark": {"type": "text", "align": "left", "baseline": "alphabetic", "dy": 9, "fontSize": 26, "color": "#1a1a1a"},
  "encoding": {"x": {"datum": 2.195, "type":"quantitative","scale":{"domain":[-3,2],"range":[67,502],"nice":false,"zero":false},"title":null},
   "y": {"field":"cond","type":"nominal","scale":{"type":"point","domain":["800 µM Mg²⁺","200 µM Mg²⁺","0 µM Mg²⁺"],"padding":0.605},"axis":null},
   "text": {"field":"cond"}}},
 {"data": {"name": "ehead"}, "mark": {"type": "text", "align": "center", "baseline": "alphabetic", "dy": -16, "fontSize": 25, "fontWeight": "bold"},
  "encoding": {"x": {"field":"x","type":"quantitative","scale":{"domain":[-3,2],"range":[67,502],"nice":false,"zero":false},"title":null},
   "y": {"datum": "800 µM Mg²⁺", "type":"nominal","scale":{"type":"point","domain":["800 µM Mg²⁺","200 µM Mg²⁺","0 µM Mg²⁺"],"padding":0.605},"axis":null},
   "text": {"field":"type"},
   "color": {"field":"type","type":"nominal","scale":{"domain":["CC","UC","CU","UU"],"range":["#ffc000","#0000ff","#008000","#ff0000"]},"legend":null}}},
 {"data": {"values": [{}]}, "mark": {"type": "text", "text": "e)", "align": "left", "baseline": "alphabetic", "dy": -18, "fontSize": 30, "fontWeight": "bold", "color": "#111"},
  "encoding": {"x": {"datum": -3.598, "type":"quantitative","scale":{"domain":[-3,2],"range":[67,502],"nice":false,"zero":false},"title":null},
   "y": {"datum": "800 µM Mg²⁺", "type":"nominal","scale":{"type":"point","domain":["800 µM Mg²⁺","200 µM Mg²⁺","0 µM Mg²⁺"],"padding":0.605},"axis":null}}},
 {"data": {"values": [{}]},
  "encoding": {"x": {"datum": -1.248, "type":"quantitative","scale":{"domain":[-3,2],"range":[67,502],"nice":false,"zero":false},"title":null},
   "y": {"datum": "0 µM Mg²⁺", "type":"nominal","scale":{"type":"point","domain":["800 µM Mg²⁺","200 µM Mg²⁺","0 µM Mg²⁺"],"padding":0.605},"axis":null}},
  "layer": [
   {"mark": {"type": "text", "text": "- ln (A", "align": "left", "baseline": "alphabetic", "dy": 92, "dx": 0, "fontSize": 17, "fontWeight": "bold", "color": "#222"}},
   {"mark": {"type": "text", "text": "KC", "align": "left", "baseline": "alphabetic", "dy": 96, "dx": 48, "fontSize": 13, "fontWeight": "bold", "color": "#222"}},
   {"mark": {"type": "text", "text": "/A", "align": "left", "baseline": "alphabetic", "dy": 92, "dx": 67, "fontSize": 17, "fontWeight": "bold", "color": "#222"}},
   {"mark": {"type": "text", "text": "K1", "align": "left", "baseline": "alphabetic", "dy": 96, "dx": 84, "fontSize": 13, "fontWeight": "bold", "color": "#222"}},
   {"mark": {"type": "text", "text": "short", "align": "left", "baseline": "alphabetic", "dy": 100, "dx": 100.5, "fontSize": 10, "fontWeight": "bold", "color": "#222"}},
   {"mark": {"type": "text", "text": ")", "align": "left", "baseline": "alphabetic", "dy": 92, "dx": 125.5, "fontSize": 17, "fontWeight": "bold", "color": "#222"}}
  ]}
]}
]
}
